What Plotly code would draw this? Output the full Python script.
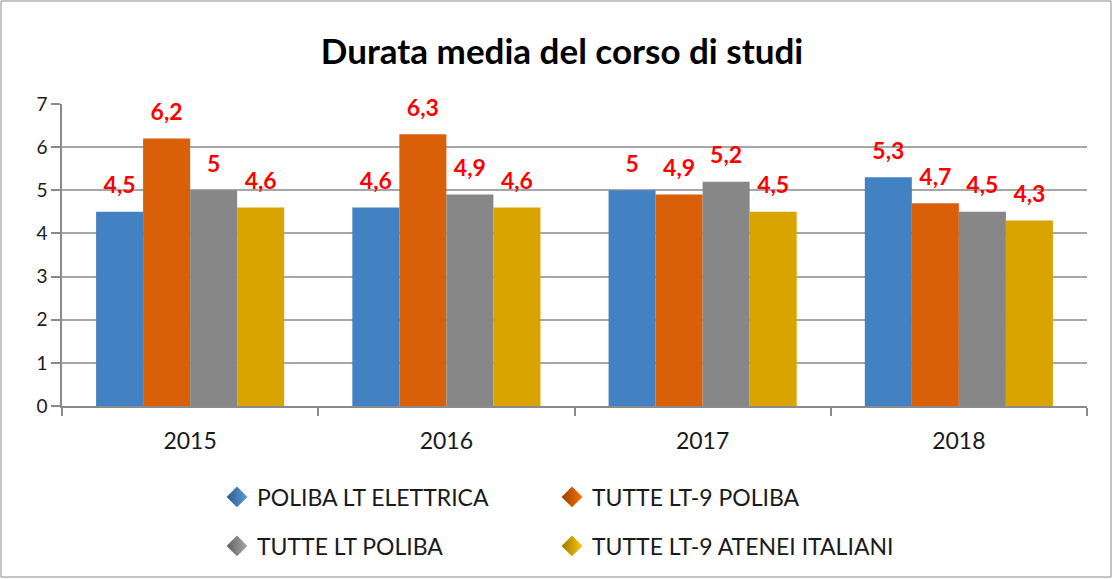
import plotly.graph_objects as go

# ---- data ----
years = ["2015", "2016", "2017", "2018"]
series_names = [
    "POLIBA LT ELETTRICA",
    "TUTTE LT-9 POLIBA",
    "TUTTE LT POLIBA",
    "TUTTE LT-9 ATENEI ITALIANI",
]
poliba_lt_elettrica = [4.5, 4.6, 5.0, 5.3]
tutte_lt9_poliba = [6.2, 6.3, 4.9, 4.7]
tutte_lt_poliba = [5.0, 4.9, 5.2, 4.5]
tutte_lt9_atenei = [4.6, 4.6, 4.5, 4.3]
y_ticks = [0, 1, 2, 3, 4, 5, 6, 7]
title_text = "Durata media del corso di studi"

series_values = [poliba_lt_elettrica, tutte_lt9_poliba, tutte_lt_poliba, tutte_lt9_atenei]

# ---- styles ----
FONT = "Lato"
bar_colors = ["#4282c2", "#d95f08", "#878787", "#d9a300"]
dark_colors = ["#2d5a88", "#9a3f00", "#5e5e5e", "#a07800"]
light_colors = ["#5a9cdd", "#f87200", "#aaaaaa", "#fcc800"]
legend_ids = ["legend", "legend2", "legend3", "legend4"]
legend_px = [(217, 497), (552, 497), (217, 546), (552, 546)]


def fmt(v):
    return f"{v:g}".replace(".", ",")


fig = go.Figure()

for i, (name, vals) in enumerate(zip(series_names, series_values)):
    fig.add_bar(
        x=years, y=vals, name=name,
        marker=dict(color=bar_colors[i], line=dict(width=0)),
        offsetgroup=str(i), showlegend=False, hoverinfo="skip",
    )

for i, (name, vals) in enumerate(zip(series_names, series_values)):
    fig.add_scatter(
        x=years, y=vals, mode="markers+text",
        text=[fmt(v) for v in vals], textposition="top center",
        textfont=dict(family=FONT, size=23, color="#ff0000", weight="bold"),
        marker=dict(size=19, opacity=0),
        offsetgroup=str(i), orientation="v",
        showlegend=False, hoverinfo="skip", cliponaxis=False,
    )

for i, name in enumerate(series_names):
    fig.add_scatter(
        x=[None], y=[None], mode="markers", name=name,
        marker=dict(symbol="diamond", size=16, color=dark_colors[i],
                    gradient=dict(type="horizontal", color=light_colors[i])),
        offsetgroup=str(i), legend=legend_ids[i], hoverinfo="skip",
    )

W, H = 1113, 579
L, R, T, B = 62, 26, 104, 173
pw, ph = W - L - R, H - T - B


def px_x(x):
    return (x - L) / pw


def px_y(y):
    return (H - B - y) / ph


legend_common = dict(
    orientation="h", xanchor="left", yanchor="middle",
    font=dict(family=FONT, size=23, color="#1a1a1a"),
    bgcolor="rgba(0,0,0,0)", itemsizing="trace",
)
legends = {
    lid: dict(x=px_x(lx), y=px_y(ly), **legend_common)
    for lid, (lx, ly) in zip(legend_ids, legend_px)
}

fig.update_layout(
    width=W, height=H,
    margin=dict(l=L, r=R, t=T, b=B),
    paper_bgcolor="white", plot_bgcolor="white",
    barmode="group", bargap=0.266, bargroupgap=0,
    scattermode="group", scattergap=0.266,
    font=dict(family=FONT, color="#1a1a1a"),
    title=dict(
        text=title_text, x=562 / W, xref="container", xanchor="center",
        y=1 - 52 / H, yref="container", yanchor="middle",
        font=dict(family=FONT, size=35, color="#000000", weight="bold"),
    ),
    showlegend=True,
    xaxis=dict(
        type="category", showgrid=False, showline=True,
        linecolor="#8a8a8a", linewidth=2,
        ticks="outside", tickson="boundaries", ticklen=8,
        tickcolor="#8a8a8a", tickwidth=1.5,
        tickfont=dict(family=FONT, size=23, color="#1a1a1a"),
        ticklabelstandoff=13, fixedrange=True,
    ),
    yaxis=dict(
        range=[0, 7], tickvals=y_ticks, showgrid=True,
        gridcolor="#a6a6a6", gridwidth=1.5,
        showline=True, linecolor="#8a8a8a", linewidth=1.5,
        ticks="outside", ticklen=9, tickcolor="#8a8a8a", tickwidth=1.5,
        tickfont=dict(family=FONT, size=19, color="#1a1a1a"),
        zeroline=False, fixedrange=True,
    ),
    shapes=[dict(
        type="rect", xref="paper", yref="paper",
        x0=px_x(1), x1=px_x(W - 2), y0=px_y(H - 2), y1=px_y(1),
        line=dict(color="#8c8c8c", width=1), fillcolor="rgba(0,0,0,0)",
        layer="below",
    )],
    **legends,
)

fig.write_html(
    "out.html",
    config={"displayModeBar": False},
    post_script="document.body.style.margin='0';document.body.style.overflow='hidden';",
)
